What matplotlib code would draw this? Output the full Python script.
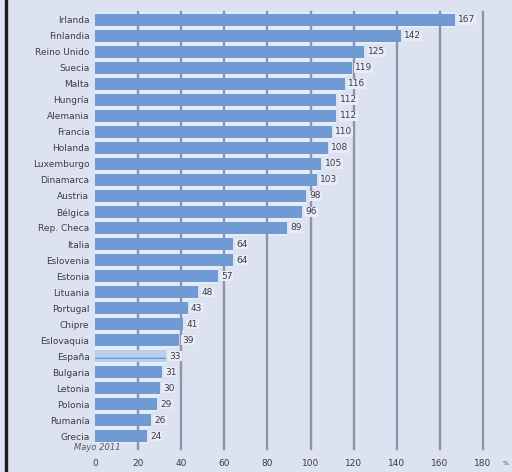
import numpy as np
import matplotlib.pyplot as plt
from matplotlib.patches import Rectangle

# Countries, top to bottom
paises = ['Irlanda', 'Finlandia', 'Reino Unido', 'Suecia', 'Malta', 'Hungría',
          'Alemania', 'Francia', 'Holanda', 'Luxemburgo', 'Dinamarca', 'Austria',
          'Bélgica', 'Rep. Checa', 'Italia', 'Eslovenia', 'Estonia', 'Lituania',
          'Portugal', 'Chipre', 'Eslovaquia', 'España', 'Bulgaria', 'Letonia',
          'Polonia', 'Rumanía', 'Grecia']
valores = [167, 142, 125, 119, 116, 112, 112, 110, 108, 105, 103, 98, 96, 89,
           64, 64, 57, 48, 43, 41, 39, 33, 31, 30, 29, 26, 24]
ticks = [0, 20, 40, 60, 80, 100, 120, 140, 160, 180]
destacado = 'España'

fondo = '#dde2f1'
azul = '#6f9ad4'
separador = '#e4ecfa'
rejilla = '#8d93a8'
texto = '#3c3c44'

fig = plt.figure(figsize=(5.12, 4.72), dpi=100, facecolor=fondo)
ax = fig.add_axes([0.1855, 0.0593, 0.80, 0.9153])
ax.set_facecolor(fondo)

y = np.arange(len(paises))

# light strips under the bars, gridlines on top of them, bars on top
ax.barh(y, valores, height=1.0, color=separador, zorder=1)
for t in ticks[1:]:
    ax.axvline(t, color=rejilla, lw=1.7, zorder=2, ymin=-0.012, ymax=1.0, clip_on=False)
colores = ['#b9cff0' if p == destacado else azul for p in paises]
barras = ax.barh(y, valores, height=0.78, color=colores, zorder=3)
for b, p in zip(barras, paises):
    if p == destacado:
        b.set_hatch('- ')
        b.set_edgecolor('#6f9ad4')
        b.set_linewidth(0)

for yi, v in zip(y, valores):
    ax.text(v + 1.5, yi, str(v), ha='left', va='center', fontsize=6.5,
            color=texto, zorder=4,
            bbox=dict(boxstyle='square,pad=0.1', fc='#e8ecf6', ec='none'))

ax.set_xlim(0, 190)
ax.set_ylim(len(paises) - 0.5, -0.5)
ax.set_yticks(y)
ax.set_yticklabels(paises, fontsize=6.5, color=texto)
ax.set_xticks(ticks)
ax.set_xticklabels([str(t) for t in ticks], fontsize=6.5, color=texto)
ax.tick_params(length=0, pad=4)
ax.tick_params(axis='x', pad=11)
for s in ax.spines.values():
    s.set_visible(False)

fig.text(0.145, 0.047, 'Mayo 2011', fontsize=6, style='italic', color='#555560')
fig.text(0.982, 0.015, '%', fontsize=4.5, color=texto)

# dark border on the left edge
fig.patches.append(Rectangle((0.009, 0), 0.004, 1, transform=fig.transFigure,
                             color='#1a1a1a', zorder=10))

fig.savefig('out.png', dpi=100, facecolor=fondo)
